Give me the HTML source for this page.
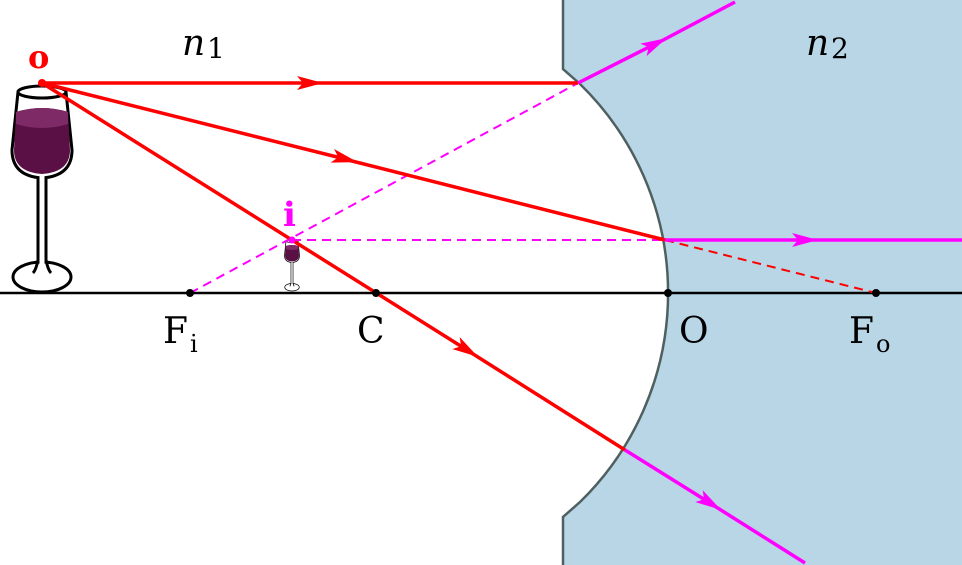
<!DOCTYPE html>
<html><head><meta charset="utf-8"><style>html,body{margin:0;padding:0;background:#fff}svg{display:block}</style></head><body>
<svg width="962" height="565" viewBox="0 0 962 565" xmlns="http://www.w3.org/2000/svg">
<defs>
<marker id="ar" viewBox="0 0 26 14" refX="13" refY="7" markerWidth="26" markerHeight="14" markerUnits="userSpaceOnUse" orient="auto"><path d="M0,0 L26,7 L0,14 L6,7 Z" fill="red"/></marker>
<marker id="am" viewBox="0 0 26 14" refX="13" refY="7" markerWidth="26" markerHeight="14" markerUnits="userSpaceOnUse" orient="auto"><path d="M0,0 L26,7 L0,14 L6,7 Z" fill="#f0f"/></marker>
<g id="glass">
<path d="M18,92 L12,150 Q12,176 42,178 Q72,176 72,150 L66,92 Z" fill="#fff" stroke="#000" stroke-width="3"/>
<path d="M16,112 Q42,104 68,112 L70,150 Q70,172 42,174 Q14,172 14,150 Z" fill="#5a1044"/>
<path d="M16,112 Q42,104 68,112 L68,124 Q42,132 16,124 Z" fill="#7d2a66"/>
<ellipse cx="42" cy="92" rx="24" ry="6" fill="#fff" stroke="#000" stroke-width="3"/>
<ellipse cx="42" cy="277" rx="29" ry="15" fill="#fff" stroke="#000" stroke-width="3"/>
<path d="M38,178 L38,260 Q36,270 33,273 M46,178 L46,260 Q48,270 51,273" fill="none" stroke="#000" stroke-width="3"/>
<rect x="39.5" y="176" width="5" height="90" fill="#fff"/>
</g>
</defs>
<path d="M563,0 L962,0 L962,565 L563,565 L563,517 L580,502 A292,292 0 0 0 580,84 L563,69 Z" fill="#b8d6e6"/>
<path d="M563,0 L563,69 L580,84 A292,292 0 0 1 580,502 L563,517 L563,565" fill="none" stroke="#506060" stroke-width="2.5"/>
<line x1="0" y1="293" x2="962" y2="293" stroke="#000" stroke-width="2.5"/>
<use href="#glass"/>
<use href="#glass" transform="translate(292,240) scale(0.25) translate(-42,-88)"/>
<line x1="190" y1="293" x2="578" y2="83" stroke="#f0f" stroke-width="2" stroke-dasharray="9,6"/>
<line x1="292" y1="240" x2="665" y2="240" stroke="#f0f" stroke-width="2" stroke-dasharray="9,6"/>
<line x1="665" y1="240" x2="876" y2="293" stroke="red" stroke-width="2" stroke-dasharray="9,6"/>
<line x1="42" y1="83" x2="310" y2="83" stroke="red" stroke-width="3.5" marker-end="url(#ar)"/>
<line x1="305" y1="83" x2="578" y2="83" stroke="red" stroke-width="3.5"/>
<line x1="578" y1="83" x2="655" y2="44" stroke="#f0f" stroke-width="3.5" marker-end="url(#am)"/>
<line x1="650" y1="47" x2="735" y2="2" stroke="#f0f" stroke-width="3.5"/>
<line x1="42" y1="83" x2="345" y2="159" stroke="red" stroke-width="3.5" marker-end="url(#ar)"/>
<line x1="340" y1="158" x2="665" y2="240" stroke="red" stroke-width="3.5"/>
<line x1="665" y1="240" x2="805" y2="240" stroke="#f0f" stroke-width="3.5" marker-end="url(#am)"/>
<line x1="800" y1="240" x2="962" y2="240" stroke="#f0f" stroke-width="3.5"/>
<line x1="42" y1="83" x2="467" y2="350" stroke="red" stroke-width="3.5" marker-end="url(#ar)"/>
<line x1="462" y1="347" x2="625" y2="450" stroke="red" stroke-width="3.5"/>
<line x1="625" y1="450" x2="710" y2="503" stroke="#f0f" stroke-width="3.5" marker-end="url(#am)"/>
<line x1="705" y1="500" x2="805" y2="563" stroke="#f0f" stroke-width="3.5"/>
<g fill="#000"><circle cx="190" cy="293" r="4"/><circle cx="376" cy="293" r="4"/><circle cx="668" cy="293" r="4"/><circle cx="876" cy="293" r="4"/></g>
<circle cx="42" cy="83" r="4" fill="red"/>
<circle cx="292" cy="240" r="3.5" fill="#f0f"/>
<g font-family="DejaVu Serif, serif" font-size="36">
<text x="28" y="68" fill="red" font-weight="bold" font-size="32">o</text>
<text x="283" y="226" fill="#f0f" font-weight="bold" font-size="34">i</text>
<text x="182" y="55" font-style="italic">n</text><text x="207" y="58" font-size="28">1</text>
<text x="806" y="55" font-style="italic">n</text><text x="831" y="58" font-size="28">2</text>
<text x="163" y="343">F</text><text x="190" y="352" font-size="24">i</text>
<text x="357" y="343">C</text>
<text x="679" y="343">O</text>
<text x="849" y="343">F</text><text x="876" y="352" font-size="24">o</text>
</g>
</svg>
</body></html>
